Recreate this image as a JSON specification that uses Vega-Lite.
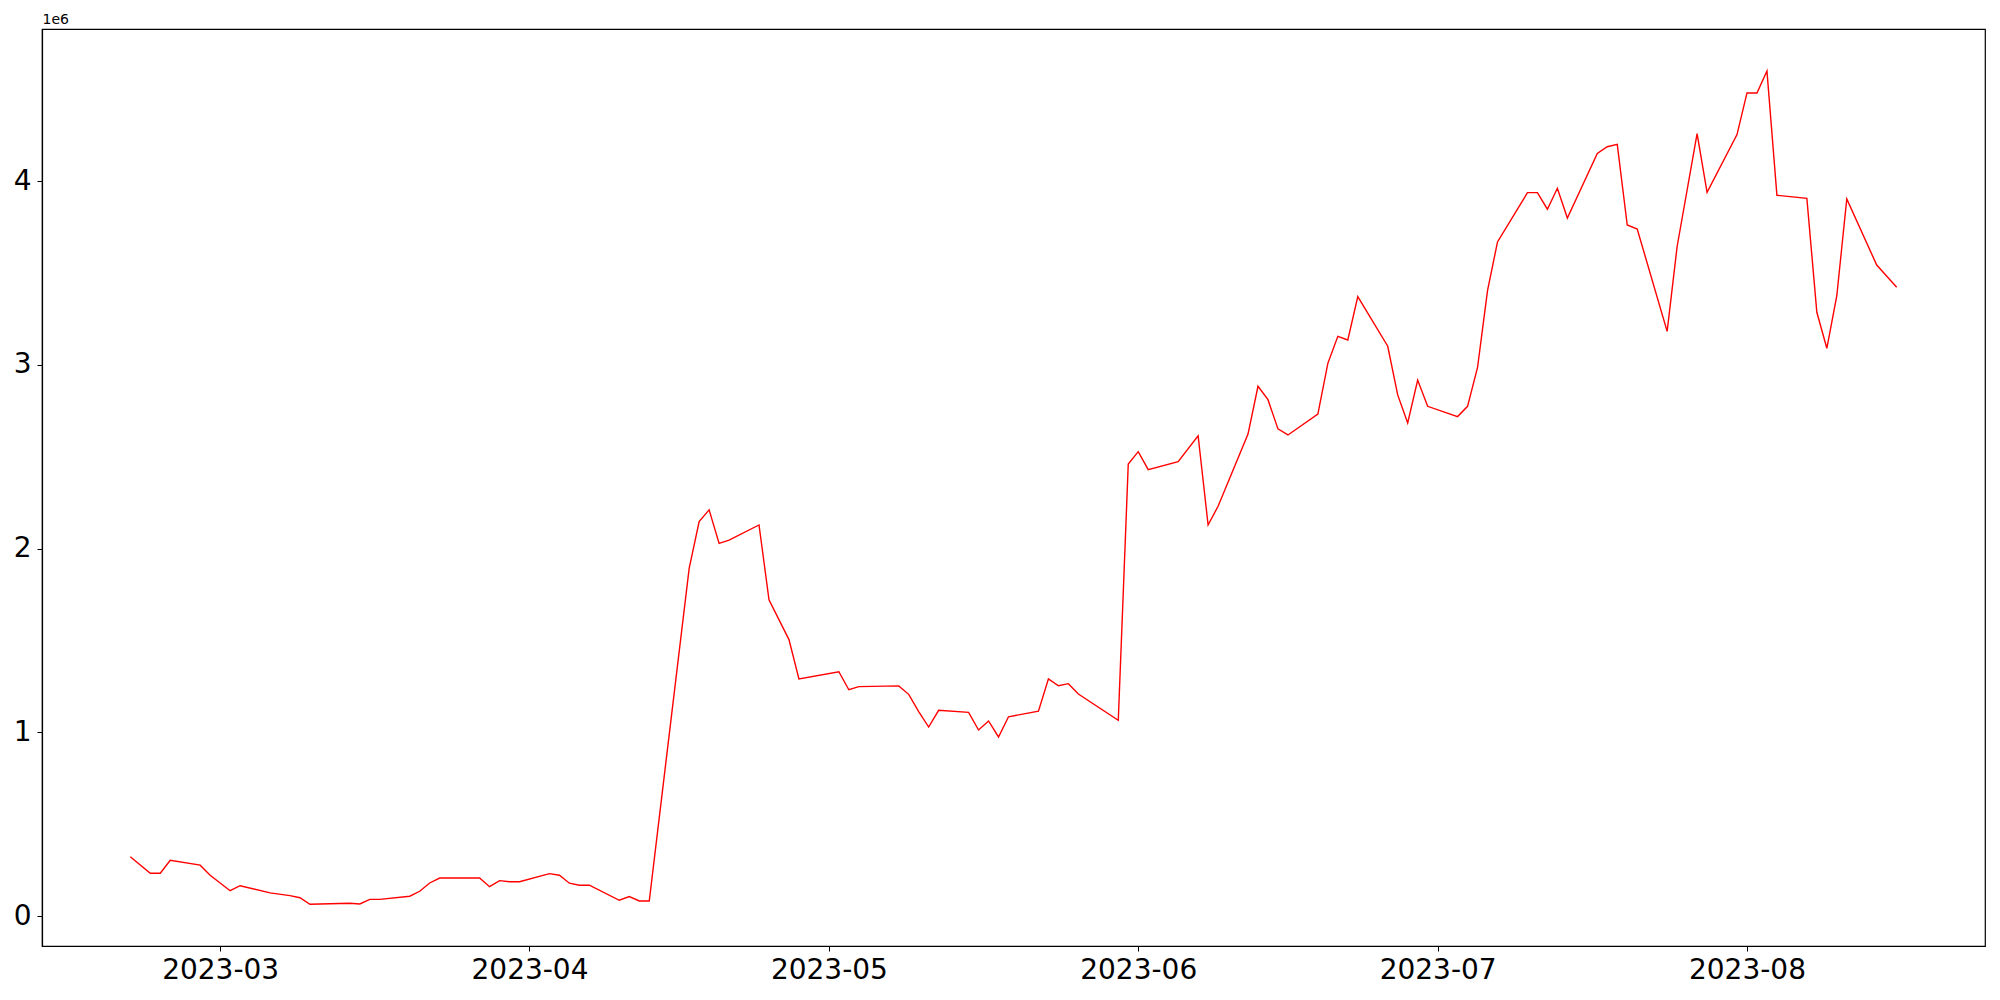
{
  "$schema": "https://vega.github.io/schema/vega-lite/v6.json",
  "autosize": {"type": "none"},
  "width": 1943,
  "height": 917,
  "padding": {"left": 42, "top": 29, "right": 15, "bottom": 54},
  "background": "white",
  "config": {
    "view": {"stroke": "black", "strokeWidth": 1.2},
    "font": "DejaVu Sans",
    "axis": {"grid": false, "domainColor": "black", "tickColor": "black", "labelColor": "black", "titleColor": "black", "labelFont": "DejaVu Sans", "titleFont": "DejaVu Sans"}
  },
  "data": {
    "values": [
      {"date": "2023-02-20", "value": 323000},
      {"date": "2023-02-22", "value": 233000},
      {"date": "2023-02-23", "value": 233000},
      {"date": "2023-02-24", "value": 304000},
      {"date": "2023-02-27", "value": 277000},
      {"date": "2023-02-28", "value": 222000},
      {"date": "2023-03-02", "value": 138000},
      {"date": "2023-03-03", "value": 165000},
      {"date": "2023-03-06", "value": 126000},
      {"date": "2023-03-08", "value": 111000},
      {"date": "2023-03-09", "value": 100000},
      {"date": "2023-03-10", "value": 64000},
      {"date": "2023-03-14", "value": 70000},
      {"date": "2023-03-15", "value": 66000},
      {"date": "2023-03-16", "value": 91000},
      {"date": "2023-03-17", "value": 91000},
      {"date": "2023-03-20", "value": 108000},
      {"date": "2023-03-21", "value": 135000},
      {"date": "2023-03-22", "value": 180000},
      {"date": "2023-03-23", "value": 207000},
      {"date": "2023-03-27", "value": 207000},
      {"date": "2023-03-28", "value": 160000},
      {"date": "2023-03-29", "value": 193000},
      {"date": "2023-03-30", "value": 187000},
      {"date": "2023-03-31", "value": 187000},
      {"date": "2023-04-03", "value": 231000},
      {"date": "2023-04-04", "value": 222000},
      {"date": "2023-04-05", "value": 179000},
      {"date": "2023-04-06", "value": 168000},
      {"date": "2023-04-07", "value": 168000},
      {"date": "2023-04-10", "value": 86000},
      {"date": "2023-04-11", "value": 106000},
      {"date": "2023-04-12", "value": 82000},
      {"date": "2023-04-13", "value": 82000},
      {"date": "2023-04-17", "value": 1893000},
      {"date": "2023-04-18", "value": 2147000},
      {"date": "2023-04-19", "value": 2211000},
      {"date": "2023-04-20", "value": 2029000},
      {"date": "2023-04-21", "value": 2046000},
      {"date": "2023-04-24", "value": 2129000},
      {"date": "2023-04-25", "value": 1722000},
      {"date": "2023-04-27", "value": 1505000},
      {"date": "2023-04-28", "value": 1291000},
      {"date": "2023-05-02", "value": 1330000},
      {"date": "2023-05-03", "value": 1232000},
      {"date": "2023-05-04", "value": 1249000},
      {"date": "2023-05-08", "value": 1253000},
      {"date": "2023-05-09", "value": 1207000},
      {"date": "2023-05-10", "value": 1113000},
      {"date": "2023-05-11", "value": 1029000},
      {"date": "2023-05-12", "value": 1120000},
      {"date": "2023-05-15", "value": 1109000},
      {"date": "2023-05-16", "value": 1013000},
      {"date": "2023-05-17", "value": 1062000},
      {"date": "2023-05-18", "value": 975000},
      {"date": "2023-05-19", "value": 1085000},
      {"date": "2023-05-22", "value": 1115000},
      {"date": "2023-05-23", "value": 1291000},
      {"date": "2023-05-24", "value": 1254000},
      {"date": "2023-05-25", "value": 1265000},
      {"date": "2023-05-26", "value": 1209000},
      {"date": "2023-05-30", "value": 1066000},
      {"date": "2023-05-31", "value": 2461000},
      {"date": "2023-06-01", "value": 2528000},
      {"date": "2023-06-02", "value": 2430000},
      {"date": "2023-06-05", "value": 2474000},
      {"date": "2023-06-07", "value": 2615000},
      {"date": "2023-06-08", "value": 2129000},
      {"date": "2023-06-09", "value": 2231000},
      {"date": "2023-06-12", "value": 2624000},
      {"date": "2023-06-13", "value": 2884000},
      {"date": "2023-06-14", "value": 2811000},
      {"date": "2023-06-15", "value": 2652000},
      {"date": "2023-06-16", "value": 2619000},
      {"date": "2023-06-19", "value": 2733000},
      {"date": "2023-06-20", "value": 3009000},
      {"date": "2023-06-21", "value": 3156000},
      {"date": "2023-06-22", "value": 3136000},
      {"date": "2023-06-23", "value": 3372000},
      {"date": "2023-06-26", "value": 3102000},
      {"date": "2023-06-27", "value": 2837000},
      {"date": "2023-06-28", "value": 2684000},
      {"date": "2023-06-29", "value": 2918000},
      {"date": "2023-06-30", "value": 2775000},
      {"date": "2023-07-03", "value": 2719000},
      {"date": "2023-07-04", "value": 2775000},
      {"date": "2023-07-05", "value": 2987000},
      {"date": "2023-07-06", "value": 3405000},
      {"date": "2023-07-07", "value": 3670000},
      {"date": "2023-07-10", "value": 3938000},
      {"date": "2023-07-11", "value": 3938000},
      {"date": "2023-07-12", "value": 3848000},
      {"date": "2023-07-13", "value": 3962000},
      {"date": "2023-07-14", "value": 3800000},
      {"date": "2023-07-17", "value": 4152000},
      {"date": "2023-07-18", "value": 4188000},
      {"date": "2023-07-19", "value": 4201000},
      {"date": "2023-07-20", "value": 3762000},
      {"date": "2023-07-21", "value": 3740000},
      {"date": "2023-07-24", "value": 3183000},
      {"date": "2023-07-25", "value": 3645000},
      {"date": "2023-07-27", "value": 4259000},
      {"date": "2023-07-28", "value": 3940000},
      {"date": "2023-07-31", "value": 4254000},
      {"date": "2023-08-01", "value": 4481000},
      {"date": "2023-08-02", "value": 4481000},
      {"date": "2023-08-03", "value": 4600000},
      {"date": "2023-08-04", "value": 3924000},
      {"date": "2023-08-07", "value": 3907000},
      {"date": "2023-08-08", "value": 3287000},
      {"date": "2023-08-09", "value": 3091000},
      {"date": "2023-08-10", "value": 3377000},
      {"date": "2023-08-11", "value": 3904000},
      {"date": "2023-08-14", "value": 3544000},
      {"date": "2023-08-16", "value": 3423000}
    ]
  },
  "mark": {"type": "line", "color": "#ff0000", "strokeWidth": 1.4, "interpolate": "linear"},
  "encoding": {
    "x": {
      "field": "date",
      "type": "temporal",
      "scale": {
        "type": "utc",
        "domain": [
          {"year": 2023, "month": 2, "date": 11, "hours": 3, "minutes": 36, "utc": true},
          {"year": 2023, "month": 8, "date": 24, "hours": 20, "minutes": 24, "utc": true}
        ],
        "nice": false
      },
      "axis": {
        "title": null,
        "values": [
          {"year": 2023, "month": 3, "date": 1, "utc": true},
          {"year": 2023, "month": 4, "date": 1, "utc": true},
          {"year": 2023, "month": 5, "date": 1, "utc": true},
          {"year": 2023, "month": 6, "date": 1, "utc": true},
          {"year": 2023, "month": 7, "date": 1, "utc": true},
          {"year": 2023, "month": 8, "date": 1, "utc": true}
        ],
        "labelExpr": "utcFormat(datum.value, '%Y-%m')",
        "labelFontSize": 28,
        "tickSize": 5,
        "tickWidth": 1,
        "labelPadding": 5,
        "domainWidth": 1.2,
        "labelFlush": false,
        "labelOverlap": false
      }
    },
    "y": {
      "field": "value",
      "type": "quantitative",
      "scale": {"domain": [-163000, 4829000], "nice": false, "zero": false},
      "axis": {
        "values": [0, 1000000, 2000000, 3000000, 4000000],
        "labelExpr": "format(datum.value / 1000000, 'd')",
        "labelFontSize": 28,
        "tickSize": 5,
        "tickWidth": 1,
        "labelPadding": 6,
        "domainWidth": 1.2,
        "title": "1e6",
        "titleAngle": 0,
        "titleFontSize": 14,
        "titleFontWeight": "normal",
        "titleAlign": "left",
        "titleBaseline": "bottom",
        "titleX": 0,
        "titleY": -3,
        "labelFlush": false,
        "labelOverlap": false
      }
    }
  }
}
